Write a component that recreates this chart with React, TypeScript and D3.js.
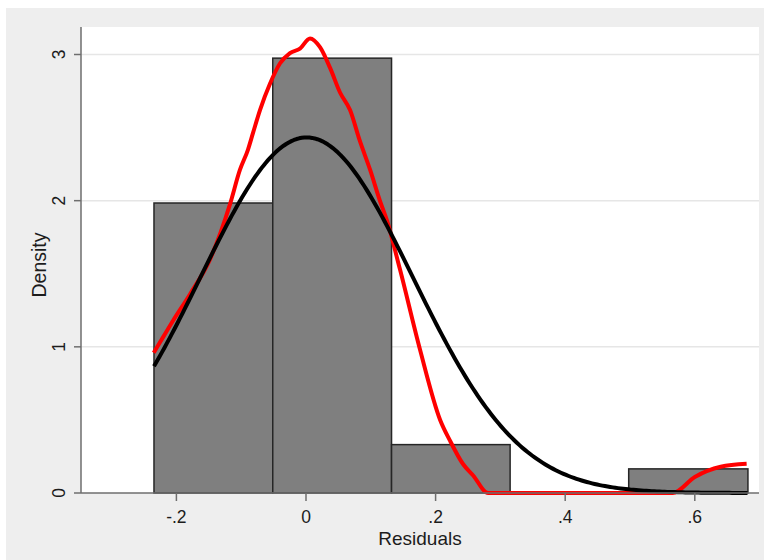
import React from "react";
import * as d3 from "d3";

// histogram bins (residuals) and their densities
const binEdges = [-0.2346, -0.0513, 0.132, 0.315, 0.498, 0.682];
const binDensity = [1.984, 2.975, 0.331, 0, 0.165];

const normalMean = 0.001;
const normalSd = 0.164;

// kernel density (red)
const kdeX = [-0.235, -0.22, -0.205, -0.179, -0.148, -0.117, -0.102, -0.0895, -0.082, -0.071, -0.0556, -0.04, -0.0247, -0.0093, 0.0062, 0.0216, 0.037, 0.0525, 0.068, 0.083, 0.099, 0.114, 0.1245, 0.145, 0.176, 0.207, 0.222, 0.242, 0.258, 0.281, 0.35, 0.45, 0.566, 0.6, 0.64, 0.68];
const kdeY = [0.96, 1.07, 1.18, 1.36, 1.6, 1.98, 2.21, 2.35, 2.46, 2.62, 2.8, 2.94, 3.01, 3.04, 3.11, 3.05, 2.91, 2.74, 2.62, 2.41, 2.21, 2.0, 1.87, 1.53, 0.98, 0.5, 0.36, 0.2, 0.12, 0, 0, 0, 0, 0.11, 0.18, 0.2];

const xTicks = [-0.2, 0, 0.2, 0.4, 0.6];
const xTickLabels = ["-.2", "0", ".2", ".4", ".6"];
const yTicks = [0, 1, 2, 3];

const W = 764;
const H = 560;
const plot = { left: 81, right: 759, top: 27, bottom: 493 };
const font = "'Liberation Sans', Arial, sans-serif";
const textColor = "#1c1c1c";

export default function App() {
  const x = d3.scaleLinear().domain([0, 0.2]).range([306, 435.6]);
  const y = d3.scaleLinear().domain([0, 3]).range([plot.bottom, 54.5]);

  const normalPts = d3.range(binEdges[0], binEdges[5] + 1e-9, 0.004).map((v) => [
    v,
    Math.exp(-((v - normalMean) ** 2) / (2 * normalSd * normalSd)) / (normalSd * Math.sqrt(2 * Math.PI)),
  ]);

  const line = d3
    .line<number[]>()
    .x((d) => x(d[0]))
    .y((d) => y(d[1]));

  const kdeLine = d3
    .line<number[]>()
    .x((d) => x(d[0]))
    .y((d) => y(d[1]))
    .curve(d3.curveMonotoneX);

  const kdePts = kdeX.map((v, i) => [v, kdeY[i]]);

  return (
    <div style={{ position: "absolute", left: 0, top: 0 }}>
      <svg width={W} height={H} style={{ display: "block" }}>
        <rect x={0} y={0} width={W} height={H} fill="#ffffff" />
        <rect x={6} y={8} width={W - 6} height={H - 8} fill="#eeeeee" />
        <rect
          x={plot.left}
          y={plot.top}
          width={plot.right - plot.left}
          height={plot.bottom - plot.top}
          fill="#ffffff"
        />

        {/* gridlines */}
        {yTicks
          .filter((t) => t > 0)
          .map((t) => (
            <line key={t} x1={plot.left} x2={plot.right} y1={y(t)} y2={y(t)} stroke="#e6e6e6" strokeWidth={1.5} />
          ))}

        {/* bars */}
        {binDensity.map((d, i) => (
          <rect
            key={i}
            x={x(binEdges[i])}
            y={y(d)}
            width={x(binEdges[i + 1]) - x(binEdges[i])}
            height={y(0) - y(d)}
            fill="#7f7f7f"
            stroke="#262626"
            strokeWidth={1.5}
          />
        ))}

        <path d={kdeLine(kdePts) || ""} fill="none" stroke="#ff0000" strokeWidth={4} strokeLinejoin="round" />
        <path d={line(normalPts) || ""} fill="none" stroke="#000000" strokeWidth={4} strokeLinejoin="round" />

        {/* y axis */}
        <line x1={plot.left} x2={plot.left} y1={plot.top} y2={plot.bottom} stroke="#6e6e6e" strokeWidth={1.5} />
        {yTicks.map((t) => (
          <g key={t} transform={`translate(${plot.left},${y(t)})`}>
            <line x1={-7} x2={0} stroke="#6e6e6e" strokeWidth={1.5} />
            <text
              transform="translate(-16,0) rotate(-90)"
              textAnchor="middle"
              fontFamily={font}
              fontSize={17.5}
              fill={textColor}
            >
              {t}
            </text>
          </g>
        ))}
        <text
          transform={`translate(46,265) rotate(-90)`}
          textAnchor="middle"
          fontFamily={font}
          fontSize={19.5}
          fill={textColor}
        >
          Density
        </text>

        {/* x axis */}
        <line x1={plot.left} x2={plot.right} y1={plot.bottom} y2={plot.bottom} stroke="#6e6e6e" strokeWidth={1.5} />
        {xTicks.map((t, i) => (
          <g key={t} transform={`translate(${x(t)},${plot.bottom})`}>
            <line y1={0} y2={8} stroke="#6e6e6e" strokeWidth={1.5} />
            <text y={30} textAnchor="middle" fontFamily={font} fontSize={17.5} fill={textColor}>
              {xTickLabels[i]}
            </text>
          </g>
        ))}
        <text x={420} y={545} textAnchor="middle" fontFamily={font} fontSize={19} fill={textColor}>
          Residuals
        </text>
      </svg>
    </div>
  );
}
